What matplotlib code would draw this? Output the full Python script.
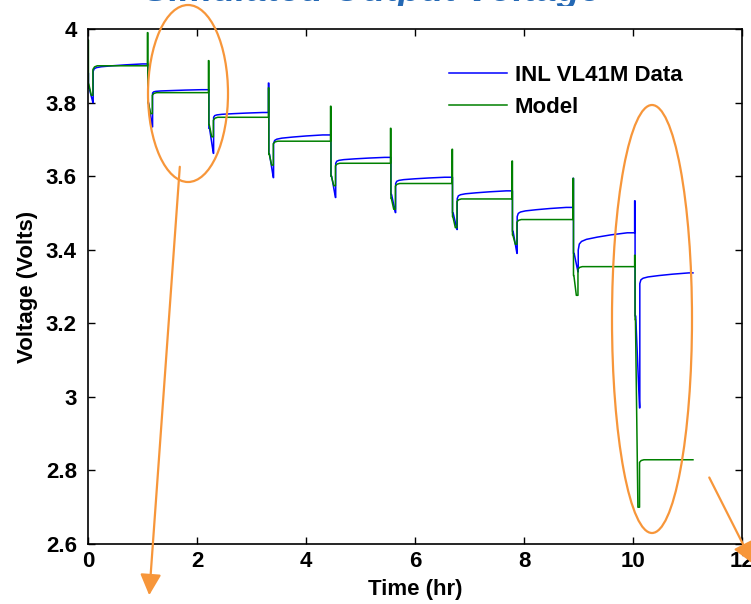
import matplotlib
matplotlib.use("Agg")
import matplotlib.pyplot as plt
from matplotlib.patches import Ellipse, FancyArrowPatch
from matplotlib.ticker import FuncFormatter
from matplotlib.transforms import Bbox

# ---- test data: pulse times (hr) and voltage levels (V) for each SOC step ----
pulse_t = [0.0, 1.09, 2.21, 3.31, 4.45, 5.55, 6.68, 7.78, 8.90, 10.03]
end_t = 11.1

# measured cell (INL VL41M)
data_start = 3.88
data_high = [3.88, 3.905, 3.835, 3.853, 3.712, 3.651, 3.597, 3.560, 3.594, 3.533]
data_dis = [3.84, 3.80, 3.73, 3.66, 3.60, 3.55, 3.50, 3.45, 3.39, 3.22]
data_dip = [3.800, 3.734, 3.662, 3.596, 3.542, 3.501, 3.455, 3.390, 3.340, 2.970]
data_rec = [3.885, 3.826, 3.760, 3.689, 3.635, 3.580, 3.539, 3.490, 3.399, 3.308]
data_plat = [3.905, 3.835, 3.773, 3.712, 3.651, 3.597, 3.560, 3.515, 3.446, 3.337]

# model
model_start = 3.97
model_high = [3.97, 3.99, 3.914, 3.840, 3.790, 3.730, 3.673, 3.641, 3.594, 3.385]
model_dis = [3.85, 3.80, 3.74, 3.66, 3.60, 3.54, 3.49, 3.44, 3.33, 3.21]
model_dip = [3.820, 3.770, 3.707, 3.630, 3.574, 3.510, 3.460, 3.415, 3.276, 2.700]
model_rec = [3.890, 3.820, 3.752, 3.688, 3.628, 3.573, 3.531, 3.475, 3.347, 2.822]
model_plat = [3.900, 3.827, 3.760, 3.695, 3.635, 3.580, 3.538, 3.482, 3.354, 2.829]

# relaxation after each discharge: hours since recovery, fraction of gap closed
data_relax_t = [0.0, 0.02, 0.06, 0.15, 0.35, 0.6, 0.9]
data_relax_f = [0.0, 0.35, 0.50, 0.62, 0.75, 0.88, 1.0]
model_relax_t = [0.0, 0.03, 0.08]
model_relax_f = [0.0, 0.7, 1.0]

x_ticks = [0, 2, 4, 6, 8, 10, 12]
y_ticks = [2.6, 2.8, 3.0, 3.2, 3.4, 3.6, 3.8, 4.0]


def build_trace(start, highs, dis, dips, recs, plats, relax_t, relax_f,
                t_dis, t_dip, t_rec):
    ts, vs = [], []
    for k, t0 in enumerate(pulse_t):
        prev = start if k == 0 else plats[k - 1]
        seq = [(t0, prev), (t0, highs[k]), (t0 + 0.008, highs[k]),
               (t0 + 0.008, dis[k]), (t0 + t_dis, dis[k]),
               (t0 + t_dip, dips[k]), (t0 + t_rec, dips[k])]
        for dt, f in zip(relax_t, relax_f):
            seq.append((t0 + t_rec + dt, recs[k] + (plats[k] - recs[k]) * f))
        t_next = pulse_t[k + 1] if k + 1 < len(pulse_t) else end_t
        seq.append((t_next, plats[k]))
        for t, v in seq:
            ts.append(t)
            vs.append(v)
    return ts, vs


data_t, data_v = build_trace(data_start, data_high, data_dis, data_dip,
                             data_rec, data_plat, data_relax_t, data_relax_f,
                             0.02, 0.09, 0.095)
model_t, model_v = build_trace(model_start, model_high, model_dis, model_dip,
                               model_rec, model_plat, model_relax_t,
                               model_relax_f, 0.015, 0.06, 0.09)

plt.rcParams["font.family"] = ["Liberation Sans", "DejaVu Sans"]
plt.rcParams["font.weight"] = "bold"
plt.rcParams["axes.labelweight"] = "bold"

W, H = 751, 604
fig = plt.figure(figsize=(W / 100, H / 100), dpi=100)
ax = fig.add_axes([88 / W, 1 - 544 / H, 654 / W, 515 / H])

ax.plot(data_t, data_v, color="#0000FF", lw=1.1, label="INL VL41M Data")
ax.plot(model_t, model_v, color="#008000", lw=1.1, label="Model")

ax.set_xlim(0, 12)
ax.set_ylim(2.6, 4.0)
ax.set_xticks(x_ticks)
ax.set_yticks(y_ticks)
ax.yaxis.set_major_formatter(FuncFormatter(lambda v, p: f"{v:g}"))
ax.tick_params(direction="in", length=5, width=1, top=True, right=True,
               labelsize=16, colors="black")
ax.tick_params(axis="y", pad=8)
ax.tick_params(axis="x", pad=5)
for s in ax.spines.values():
    s.set_linewidth(1.2)

ax.set_xlabel("Time (hr)", fontsize=16, labelpad=5)
ax.set_ylabel("Voltage (Volts)", fontsize=16, labelpad=6)

leg = ax.legend(loc="upper left", bbox_to_anchor=(449 / W, 1 - 65 / H),
                bbox_transform=fig.transFigure, frameon=False, fontsize=16,
                handlelength=2.6, handletextpad=0.35, labelspacing=0.5,
                borderpad=0, borderaxespad=0)

# slide title above the chart: only its lowest strip falls on the canvas
title = fig.text(372 / W, 1 - 0.8 / H, "Simulated Output Voltage", ha="center",
                 va="baseline", fontsize=27, fontweight="bold",
                 fontstyle="italic", color="#2468B4")
title.set_clip_box(Bbox([[0, H - 5.5], [W, H + 200]]))
title.set_clip_on(True)

# orange call-out ellipses and arrows
orange = "#F7963A"
fig.add_artist(Ellipse((188 / W, 1 - 93.5 / H), 80 / W, 177 / H,
                       transform=fig.transFigure, fill=False,
                       edgecolor=orange, lw=1.6))
fig.add_artist(Ellipse((652 / W, 1 - 319 / H), 80 / W, 428 / H,
                       transform=fig.transFigure, fill=False,
                       edgecolor=orange, lw=1.6))
fig.add_artist(FancyArrowPatch((180 / W, 1 - 164 / H), (149 / W, 1 - 598 / H),
                               transform=fig.transFigure, color=orange,
                               lw=1.6, arrowstyle="-|>,head_length=8,head_width=4",
                               mutation_scale=1.6))
fig.add_artist(FancyArrowPatch((708 / W, 1 - 475 / H), (754 / W, 1 - 566 / H),
                               transform=fig.transFigure, color=orange,
                               lw=1.6, arrowstyle="-|>,head_length=8,head_width=4",
                               mutation_scale=1.6))

fig.savefig("out.png", dpi=100)
